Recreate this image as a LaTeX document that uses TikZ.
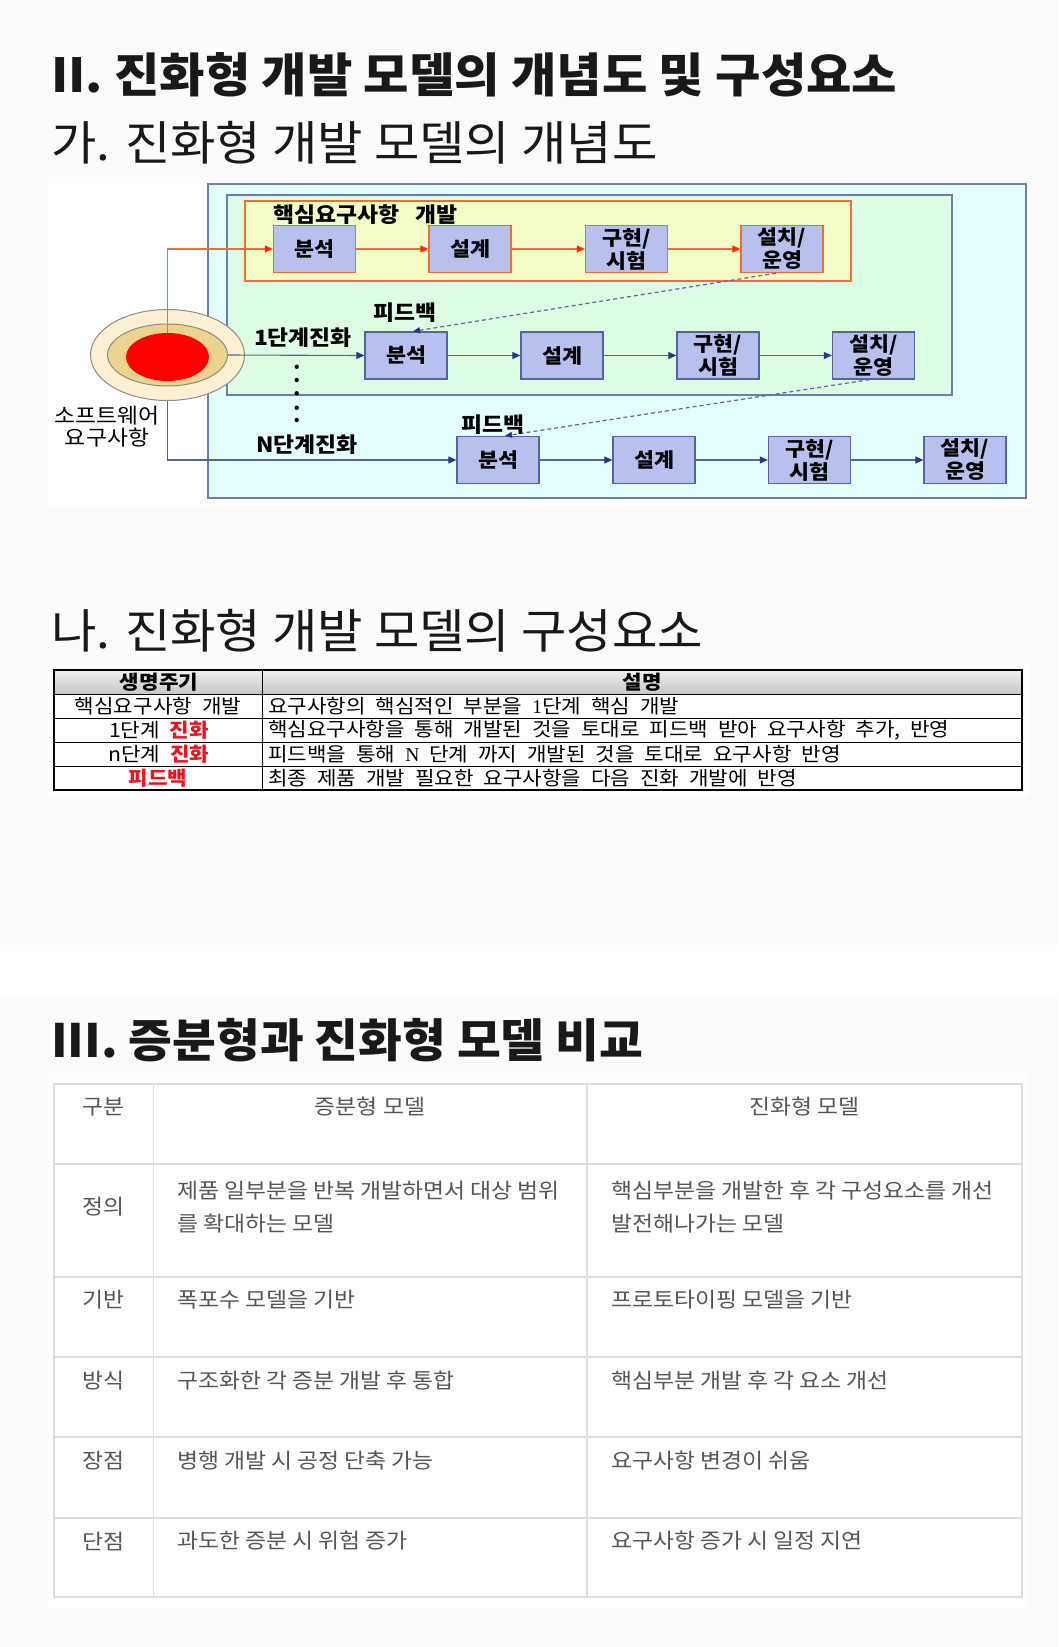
\documentclass[tikz,border=0pt]{standalone}
\usepackage{fontspec}
\setmainfont[FakeStretch=1.087]{Noto Sans CJK KR}
\newfontfamily\headfont[FakeStretch=1.05]{Noto Sans CJK KR}
\newfontfamily\headfontb[FakeStretch=1.035]{Noto Sans CJK KR}
\newfontfamily\tblfont[WordSpace=2.1,FakeStretch=1.088]{Noto Sans CJK KR}
\newfontfamily\serifnum{Liberation Serif}
\usetikzlibrary{arrows.meta,shapes.geometric,calc}
\definecolor{pagebg}{HTML}{FBFBFB}
\definecolor{outerfill}{HTML}{E4FDFD}
\definecolor{greenfill}{HTML}{DCFCE4}
\definecolor{yellowfill}{HTML}{F3FCC6}
\definecolor{procfill}{HTML}{B9C0EE}
\definecolor{boxline}{HTML}{6E7DAE}
\definecolor{orangeline}{HTML}{EC6E3A}
\definecolor{tipred}{HTML}{FF2A00}
\definecolor{blueline}{HTML}{56659E}
\definecolor{tipnavy}{HTML}{2E3488}
\definecolor{dashcol}{HTML}{5A6A9A}
\definecolor{creamfill}{HTML}{FBF0D2}
\definecolor{tanfill}{HTML}{EAD38E}
\definecolor{ringline}{HTML}{8E8E86}
\definecolor{redtxt}{HTML}{E8141E}
\definecolor{gridgray}{HTML}{DEDEDE}
\definecolor{txtgray}{HTML}{555555}
\begin{document}
\begin{tikzpicture}[x=1pt,y=-1pt,
  heading/.style={inner sep=0pt, anchor=base west, text=black!90},
  proc/.style={draw, fill=procfill, minimum width=82pt, minimum height=47pt, inner sep=0pt,
    font=\fontsize{20}{23}\selectfont\bfseries, align=center, line width=1.3pt},
  procA/.style={proc, draw=orangeline},
  procB/.style={proc, draw=blueline},
  flowA/.style={draw=orangeline, line width=1.1pt, -{Triangle[length=8pt,width=7pt,color=tipred]}},
  flowB/.style={draw=blueline, line width=1.1pt, -{Triangle[length=8pt,width=7pt,color=tipnavy]}},
  fback/.style={draw=dashcol, line width=1.2pt, dash pattern=on 4pt off 3pt, -{Triangle[length=7pt,width=6pt,color=tipnavy]}},
  lbl/.style={inner sep=0pt, font=\fontsize{21}{24}\selectfont\bfseries, align=center},
  tone/.style={inner sep=0pt, font=\tblfont\fontsize{19.5}{22}\selectfont},
  ttwo/.style={inner sep=0pt, text=txtgray, font=\fontsize{21}{33}\selectfont, align=left}
]
\useasboundingbox (0,0) rectangle (1058,1647);
% backgrounds
\fill[pagebg] (0,0) rectangle (1058,1647);
\fill[white] (48,177) rectangle (1030,507);
\fill[white] (48,663) rectangle (1030,797);
\fill[white] (0,945) rectangle (1058,997);
\fill[white] (48,1073) rectangle (1028,1608);

% headings
\node[heading, font=\headfont\fontsize{47}{50}\selectfont\bfseries] (h1) at (51,92) {II. 진화형 개발 모델의 개념도 및 구성요소};
\node[heading, font=\headfont\fontsize{47}{50}\selectfont] (h2) at (51,160) {가. 진화형 개발 모델의 개념도};
\node[heading, font=\headfont\fontsize{47}{50}\selectfont] (h3) at (51,648) {나. 진화형 개발 모델의 구성요소};
\node[heading, font=\headfontb\fontsize{46}{50}\selectfont\bfseries] (h4) at (51,1057) {III. 증분형과 진화형 모델 비교};

% diagram containers
\draw[fill=outerfill, draw=boxline, line width=1.4pt] (208,184) rectangle (1026,498);
\draw[fill=greenfill, draw=boxline, line width=1.4pt] (227,195) rectangle (952,395);
\draw[fill=yellowfill, draw=orangeline, line width=1.4pt] (245,201) rectangle (851,281);

% requirement ellipses
\node[ellipse, draw=ringline, fill=creamfill, line width=1pt, minimum width=154pt, minimum height=91pt, inner sep=0pt] (outer) at (167.5,355) {};
\node[ellipse, draw=ringline, fill=tanfill, line width=1pt, minimum width=120pt, minimum height=62pt, inner sep=0pt] (mid) at (167.5,355) {};
\node[ellipse, fill=red, minimum width=83pt, minimum height=48pt, inner sep=0pt] (core) at (167.5,357) {};

% row 1
\node[procA] (a1) at (314.5,249) {분석};
\node[procA] (b1) at (470,249) {설계};
\node[procA] (c1) at (626.5,249) {구현/\\시험};
\node[procA] (d1) at (782,249) {설치/\\운영};
% row 2
\node[procB] (a2) at (406,355.5) {분석};
\node[procB] (b2) at (562,355.5) {설계};
\node[procB] (c2) at (718,355.5) {구현/\\시험};
\node[procB] (d2) at (873.5,355.5) {설치/\\운영};
% row 3
\node[procB] (a3) at (498,460) {분석};
\node[procB] (b3) at (654,460) {설계};
\node[procB] (c3) at (809.5,460) {구현/\\시험};
\node[procB] (d3) at (965,460) {설치/\\운영};

% connectors
\draw[flowA] (core.north) |- (a1.west);
\draw[flowA] (a1) -- (b1);
\draw[flowA] (b1) -- (c1);
\draw[flowA] (c1) -- (d1);
\draw[flowB] (mid.east) -- (a2.west);
\draw[flowB] (a2) -- (b2);
\draw[flowB] (b2) -- (c2);
\draw[flowB] (c2) -- (d2);
\draw[flowB] (outer.south) |- (a3.west);
\draw[flowB] (a3) -- (b3);
\draw[flowB] (b3) -- (c3);
\draw[flowB] (c3) -- (d3);
\draw[fback] ($(d1.south)+(-6,0)$) -- ($(a2.north)+(7,0)$);
\draw[fback] ($(d2.south)+(-4,0)$) -- ($(a3.north)+(7,0)$);

% labels
\node[lbl, anchor=west] (corelbl) at (273,215) {핵심요구사항\hspace{0.8em}개발};
\node[lbl] (s1) at (303,338) {1단계진화};
\node[lbl] (sn) at (307,445) {N단계진화};
\node[lbl] (fb2) at (405,313) {피드백};
\node[lbl] (fb3) at (493,425) {피드백};
\node[lbl, font=\fontsize{21}{22}\selectfont] (sw) at (107,427) {소프트웨어\\요구사항};
\foreach \yy in {366.7,380,393.3,407.7,420} \fill (296.7,\yy) circle (2.2);

% table 1
\shade[top color=black!6, bottom color=black!22] (54,670) rectangle (1022,694);
\foreach \yy in {694,718,742,766} \draw[line width=0.9pt] (54,\yy) -- (1022,\yy);
\draw[line width=0.9pt] (262,670) -- (262,790);
\draw[line width=1.6pt] (54,670) rectangle (1022,790);
\node[tone, font=\tblfont\fontsize{19.5}{22}\selectfont\bfseries] (t1h1) at (159,682) {생명주기};
\node[tone, font=\tblfont\fontsize{19.5}{22}\selectfont\bfseries] (t1h2) at (642,682) {설명};
\node[tone] (t1a) at (158,706) {핵심요구사항 개발};
\node[tone] (t1b) at (159,730) {1단계 \textcolor{redtxt}{\bfseries 진화}};
\node[tone] (t1c) at (159,754) {n단계 \textcolor{redtxt}{\bfseries 진화}};
\node[tone] (t1d) at (158,778) {\textcolor{redtxt}{\bfseries 피드백}};
\node[tone, anchor=west] (t1a2) at (268,706) {요구사항의 핵심적인 부분을 {\serifnum 1}단계 핵심 개발};
\node[tone, anchor=west] (t1b2) at (268,730) {핵심요구사항을 통해 개발된 것을 토대로 피드백 받아 요구사항 추가, 반영};
\node[tone, anchor=west] (t1c2) at (268,754) {피드백을 통해 {\serifnum N} 단계 까지 개발된 것을 토대로 요구사항 반영};
\node[tone, anchor=west] (t1d2) at (268,778) {최종 제품 개발 필요한 요구사항을 다음 진화 개발에 반영};

% table 2
\begin{scope}[draw=gridgray, line width=1.3pt]
\foreach \yy in {1164,1277,1357,1437,1518} \draw (54,\yy) -- (1022,\yy);
\draw (153.5,1084) -- (153.5,1597);
\draw (587,1084) -- (587,1597);
\draw (54,1084) rectangle (1022,1597);
\end{scope}
\node[ttwo] (k0) at (103.5,1107) {구분};
\node[ttwo] (k1) at (370,1107) {증분형 모델};
\node[ttwo] (k2) at (804.5,1107) {진화형 모델};
\node[ttwo] (r1) at (103.5,1207) {정의};
\node[ttwo, anchor=west] (r1a) at (177,1207) {제품 일부분을 반복 개발하면서 대상 범위\\를 확대하는 모델};
\node[ttwo, anchor=west] (r1b) at (611,1207) {핵심부분을 개발한 후 각 구성요소를 개선\\발전해나가는 모델};
\node[ttwo] (r2) at (103.5,1300) {기반};
\node[ttwo, anchor=west] (r2a) at (177,1300) {폭포수 모델을 기반};
\node[ttwo, anchor=west] (r2b) at (611,1300) {프로토타이핑 모델을 기반};
\node[ttwo] (r3) at (103.5,1381) {방식};
\node[ttwo, anchor=west] (r3a) at (177,1381) {구조화한 각 증분 개발 후 통합};
\node[ttwo, anchor=west] (r3b) at (611,1381) {핵심부분 개발 후 각 요소 개선};
\node[ttwo] (r4) at (103.5,1461) {장점};
\node[ttwo, anchor=west] (r4a) at (177,1461) {병행 개발 시 공정 단축 가능};
\node[ttwo, anchor=west] (r4b) at (611,1461) {요구사항 변경이 쉬움};
\node[ttwo] (r5) at (103.5,1541) {단점};
\node[ttwo, anchor=west] (r5a) at (177,1541) {과도한 증분 시 위험 증가};
\node[ttwo, anchor=west] (r5b) at (611,1541) {요구사항 증가 시 일정 지연};
\end{tikzpicture}
\end{document}
